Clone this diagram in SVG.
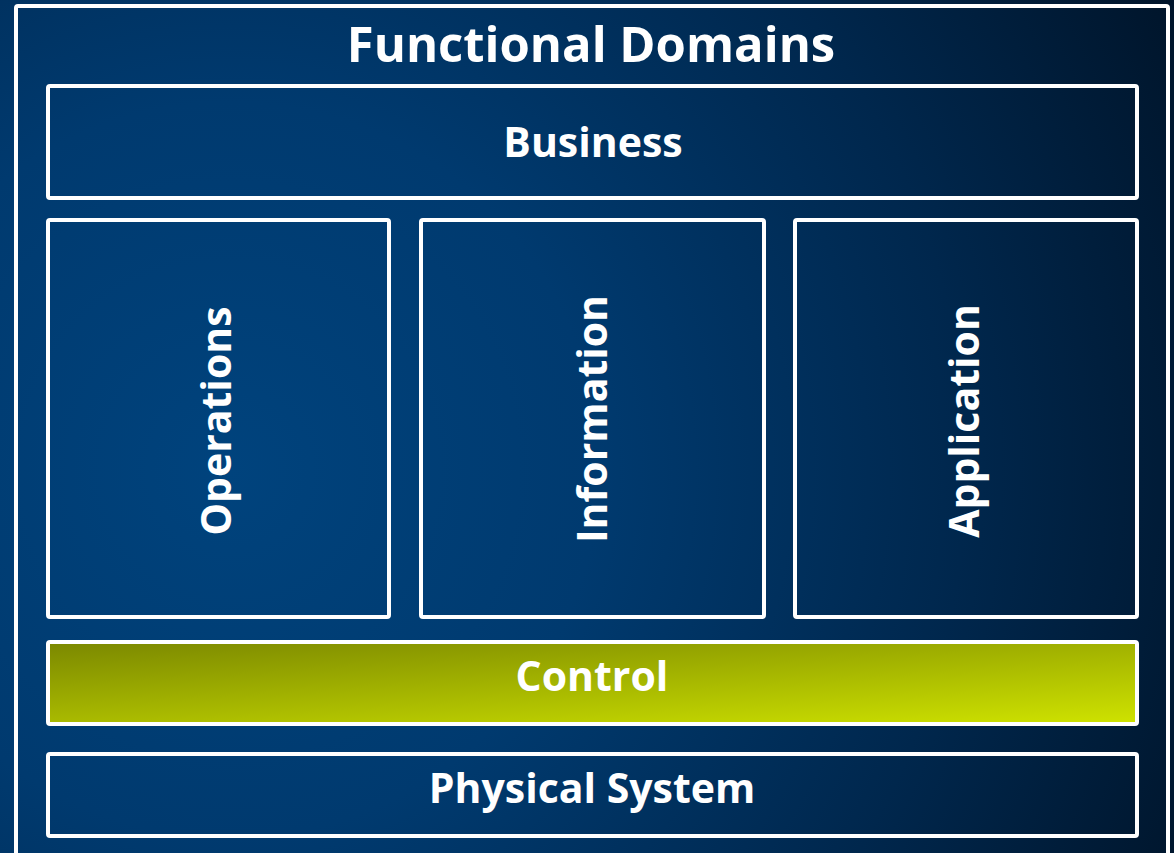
<svg xmlns="http://www.w3.org/2000/svg" width="1174" height="853" viewBox="0 0 1174 853">
  <defs>
    <!-- deep blue backdrop, lighter toward lower left -->
    <radialGradient id="bg" gradientUnits="userSpaceOnUse" cx="230" cy="470" r="1050">
      <stop offset="0" stop-color="#00437d"/>
      <stop offset="0.35" stop-color="#003a6f"/>
      <stop offset="0.7" stop-color="#00274d"/>
      <stop offset="1" stop-color="#00152b"/>
    </radialGradient>
    <!-- olive to lime fill for the Control band -->
    <linearGradient id="ctrl" gradientUnits="userSpaceOnUse" x1="48" y1="642" x2="57" y2="791">
      <stop offset="0" stop-color="#7b8800"/>
      <stop offset="1" stop-color="#d0e400"/>
    </linearGradient>
    <style>
      .box { fill: none; stroke: #ffffff; stroke-width: 4; }
      .lbl { font-family: "Open Sans", "Noto Sans", "Liberation Sans", sans-serif; font-weight: 700; fill: #ffffff; text-anchor: middle; }
      .big { font-size: 49px; }
      .mid { font-size: 41px; }
    </style>
  </defs>

  <rect x="0" y="0" width="1174" height="853" fill="url(#bg)"/>

  <g id="functional-domains">
    <rect class="box" x="16" y="6" width="1152" height="870" rx="2"/>
    <text class="lbl big" x="591" y="62">Functional Domains</text>
  </g>

  <g id="business">
    <rect class="box" x="48" y="86" width="1089" height="112" rx="2"/>
    <text class="lbl mid" x="593" y="157">Business</text>
  </g>

  <g id="operations">
    <rect class="box" x="48" y="220" width="341" height="397" rx="2"/>
    <text class="lbl mid" transform="translate(231,421) rotate(-90)">Operations</text>
  </g>

  <g id="information">
    <rect class="box" x="421" y="220" width="343" height="397" rx="2"/>
    <text class="lbl mid" transform="translate(607,419) rotate(-90)">Information</text>
  </g>

  <g id="application">
    <rect class="box" x="795" y="220" width="342" height="397" rx="2"/>
    <text class="lbl mid" transform="translate(979,421) rotate(-90)">Application</text>
  </g>

  <g id="control">
    <rect x="48" y="642" width="1089" height="82" rx="2" fill="url(#ctrl)" stroke="#ffffff" stroke-width="4"/>
    <text class="lbl mid" x="592" y="691">Control</text>
  </g>

  <g id="physical-system">
    <rect class="box" x="48" y="754" width="1089" height="82" rx="2"/>
    <text class="lbl mid" x="592" y="803">Physical System</text>
  </g>

  <g id="connectors"/>
</svg>
